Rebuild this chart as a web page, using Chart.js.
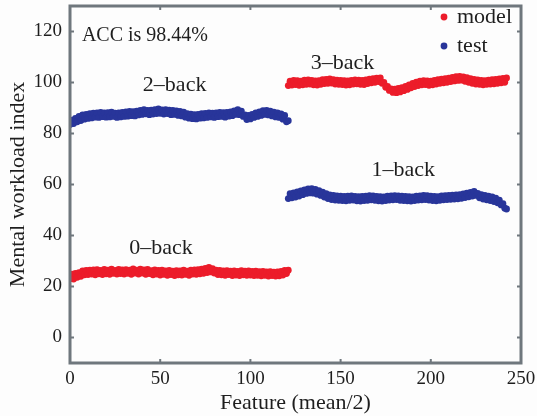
<!DOCTYPE html>
<html>
<head>
<meta charset="utf-8">
<script src="https://cdn.jsdelivr.net/npm/chart.js@4/dist/chart.umd.min.js"></script>
<style>
  html, body { margin: 0; padding: 0; background: #fdfdfd; }
  #wrap { width: 537px; height: 416px; }
</style>
</head>
<body>
<div id="wrap"><canvas id="c" width="537" height="416"></canvas></div>
<script>
// Workload index per feature sample; each block starts at the given feature number
const zeroBackStart = 0;
const zeroBack = [
  23.0,24.8,22.9,25.1,23.6,25.4,24.0,26.1,24.6,26.3,
  24.7,26.4,24.9,26.5,24.6,26.6,25.0,26.3,24.7,26.7,
  25.0,26.4,24.8,26.8,25.2,26.3,24.9,26.7,25.1,26.5,
  24.9,26.6,25.2,26.4,24.8,26.9,25.3,26.4,24.9,26.8,
  25.3,26.5,24.8,26.7,25.1,26.2,24.6,26.5,24.9,26.3,
  24.5,26.4,24.8,26.1,24.4,26.3,24.7,26.0,24.3,26.2,
  24.6,26.1,24.5,26.4,24.8,26.0,24.4,26.4,24.9,26.5,
  24.8,26.6,25.0,26.8,25.2,27.1,25.5,27.5,25.7,27.0,
  25.3,26.4,24.7,26.3,24.6,26.1,24.4,26.2,24.7,26.0,
  24.3,26.1,24.5,25.9,24.3,26.2,24.6,26.0,24.4,26.1,
  24.5,25.9,24.3,26.0,24.4,25.8,24.2,25.9,24.4,25.7,
  24.1,25.8,24.3,25.6,24.1,25.7,24.2,25.9,24.5,26.3,
  25.1,26.4
];

const twoBackStart = 0;
const twoBack = [
  83.5,85.2,83.9,85.9,84.6,86.7,85.1,87.3,85.6,87.5,
  85.9,87.8,86.1,88.0,86.4,88.1,86.3,88.3,86.6,88.1,
  86.4,88.2,86.5,88.4,86.7,88.0,86.3,88.1,86.5,88.3,
  86.7,88.5,86.8,88.7,87.0,88.6,86.9,88.8,87.3,89.1,
  87.5,89.4,87.7,89.1,87.4,89.2,87.6,89.4,87.8,89.6,
  87.9,89.3,87.6,89.4,87.8,89.2,87.4,89.1,87.5,88.9,
  87.1,88.7,86.9,88.4,86.4,87.8,86.0,87.6,85.8,87.4,
  85.7,87.5,86.0,87.8,86.1,87.9,86.3,88.1,86.5,88.0,
  86.3,88.1,86.6,88.3,86.7,88.2,86.4,88.3,86.8,88.5,
  87.0,88.9,87.5,89.4,87.4,88.8,86.7,87.3,85.5,87.1,
  85.7,87.5,86.3,88.1,86.7,88.5,87.1,89.0,87.5,89.1,
  87.3,88.8,86.9,88.4,86.5,88.1,86.3,87.7,85.6,87.1,
  84.6,85.0
];

const threeBackStart = 121;
const threeBack = [
  98.8,100.5,99.0,100.8,99.2,100.7,98.9,100.5,99.1,100.9,
  99.3,101.0,99.4,100.8,99.1,100.6,99.0,100.7,99.3,101.1,
  99.6,101.2,99.7,101.4,99.8,101.1,99.4,100.9,99.3,100.8,
  99.2,100.7,99.0,100.6,99.1,100.8,99.4,101.0,99.5,100.9,
  99.3,100.8,99.2,101.0,99.6,101.3,99.9,101.5,100.1,101.7,
  100.4,101.8,99.7,100.0,98.1,98.5,96.9,97.5,96.1,97.4,
  96.0,97.7,96.3,98.0,96.8,98.5,97.3,99.1,97.9,99.6,
  98.4,100.1,98.8,100.5,99.1,100.7,99.2,100.6,98.9,100.5,
  99.1,100.8,99.4,101.1,99.7,101.3,99.9,101.5,100.1,101.7,
  100.4,102.0,100.6,102.3,100.8,102.4,100.9,102.2,100.5,101.9,
  100.1,101.5,99.7,101.2,99.4,101.0,99.3,100.8,99.1,100.7,
  99.3,100.9,99.4,101.1,99.5,101.2,99.7,101.4,99.9,101.6,
  100.1,101.8
];

const oneBackStart = 121;
const oneBack = [
  54.5,56.4,54.8,56.7,55.1,57.1,55.5,57.5,56.0,57.9,
  56.5,58.3,56.7,58.4,56.6,58.1,56.2,57.6,55.7,57.0,
  55.1,56.4,54.5,55.9,54.1,55.7,53.9,55.5,53.8,55.4,
  53.7,55.3,53.6,55.4,53.8,55.5,53.9,55.3,53.6,55.2,
  53.5,55.3,53.7,55.4,53.8,55.6,54.0,55.5,53.8,55.3,
  53.6,55.2,53.5,55.1,53.7,55.4,53.9,55.5,54.0,55.6,
  54.1,55.5,53.8,55.4,53.7,55.3,53.6,55.2,53.5,55.1,
  53.7,55.4,53.9,55.5,54.0,55.7,54.1,55.6,53.9,55.4,
  53.7,55.3,53.6,55.2,53.8,55.5,54.0,55.6,54.1,55.7,
  54.2,55.8,54.3,55.9,54.4,56.0,54.6,56.3,54.9,56.6,
  55.2,56.9,55.5,57.3,55.7,56.5,54.8,56.0,54.3,55.7,
  54.0,55.4,53.7,55.1,53.3,54.6,52.8,53.9,52.0,52.5,
  50.7,50.4
];

const xTicks = [0, 50, 100, 150, 200, 250];
const yTicks = [0, 20, 40, 60, 80, 100, 120];
const seriesNames = ['model', 'test'];
const accText = 'ACC is 98.44%';
const taskLabels = [
  { text: '0\u2013back', x: 50.4, y: 35.0 },
  { text: '1\u2013back', x: 184.7, y: 65.5 },
  { text: '2\u2013back', x: 58.0, y: 98.8 },
  { text: '3\u2013back', x: 151.0, y: 107.5 }
];
const accPos = { x: 6.6, y: 118.5 };

const RED = '#ec1c2a';
const BLUE = '#28359a';
const AXIS = '#6f777d';
const INK = '#1e1e1e';
const SERIF = '"Liberation Serif", "Times New Roman", serif';

const toPoints = (start, vals) => vals.map((v, i) => ({ x: start + i, y: v }));

const dot = (color) => ({
  type: 'scatter',
  showLine: false,
  backgroundColor: color,
  borderColor: color,
  borderWidth: 0,
  pointRadius: 3.4,
  pointHoverRadius: 3.4
});

// Frame, inward ticks on all four sides, text labels and the legend
const decorations = {
  id: 'decorations',
  afterDatasetsDraw(chart) {
    const { ctx, chartArea: a, scales: { x, y } } = chart;
    ctx.save();
    ctx.strokeStyle = AXIS;
    ctx.lineWidth = 2;
    const tl = 4;
    xTicks.forEach(t => {
      const px = x.getPixelForValue(t);
      ctx.beginPath();
      ctx.moveTo(px, a.bottom); ctx.lineTo(px, a.bottom - tl);
      ctx.moveTo(px, a.top); ctx.lineTo(px, a.top + tl);
      ctx.stroke();
    });
    yTicks.forEach(t => {
      const py = y.getPixelForValue(t);
      ctx.beginPath();
      ctx.moveTo(a.left, py); ctx.lineTo(a.left + tl, py);
      ctx.moveTo(a.right, py); ctx.lineTo(a.right - tl, py);
      ctx.stroke();
    });
    ctx.lineWidth = 3;
    ctx.strokeRect(a.left, a.top, a.right - a.left, a.bottom - a.top);

    ctx.fillStyle = INK;
    ctx.textBaseline = 'middle';
    ctx.font = '20px ' + SERIF;
    ctx.textAlign = 'left';
    ctx.fillText(accText, x.getPixelForValue(accPos.x), y.getPixelForValue(accPos.y));
    ctx.font = '22px ' + SERIF;
    ctx.textAlign = 'center';
    taskLabels.forEach(l => {
      ctx.fillText(l.text, x.getPixelForValue(l.x), y.getPixelForValue(l.y));
    });

    // legend
    const colors = [RED, BLUE];
    ctx.textAlign = 'left';
    seriesNames.forEach((name, i) => {
      const my = a.top + 11 + i * 29;
      ctx.fillStyle = colors[i];
      ctx.beginPath();
      ctx.arc(a.right - 77, my, 3.4, 0, Math.PI * 2);
      ctx.fill();
      ctx.fillStyle = INK;
      ctx.fillText(name, a.right - 64, my);
    });
    ctx.restore();
  }
};

new Chart(document.getElementById('c'), {
  type: 'scatter',
  data: {
    datasets: [
      { label: seriesNames[0], data: toPoints(zeroBackStart, zeroBack), ...dot(RED) },
      { label: seriesNames[0], data: toPoints(threeBackStart, threeBack), ...dot(RED) },
      { label: seriesNames[1], data: toPoints(twoBackStart, twoBack), ...dot(BLUE) },
      { label: seriesNames[1], data: toPoints(oneBackStart, oneBack), ...dot(BLUE) }
    ]
  },
  options: {
    responsive: false,
    animation: false,
    devicePixelRatio: 1,
    layout: { padding: { top: 6, right: 16, left: 0, bottom: 0 } },
    plugins: { legend: { display: false }, tooltip: { enabled: false } },
    scales: {
      x: {
        type: 'linear',
        min: 0, max: 250,
        afterBuildTicks: s => { s.ticks = xTicks.map(v => ({ value: v })); },
        afterFit: s => { s.height = 53; s.paddingLeft = 0; s.paddingRight = 0; },
        grid: { display: false, drawTicks: false },
        border: { display: false },
        ticks: { color: INK, font: { family: SERIF, size: 19 }, padding: 5, maxRotation: 0 },
        title: { display: true, text: 'Feature (mean/2)', color: INK, font: { family: SERIF, size: 22 }, padding: { top: 0, bottom: 0 } }
      },
      y: {
        type: 'linear',
        min: -10, max: 130,
        afterBuildTicks: s => { s.ticks = yTicks.map(v => ({ value: v })); },
        afterFit: s => { s.width = 70; s.paddingTop = 0; s.paddingBottom = 0; },
        grid: { display: false, drawTicks: false },
        border: { display: false },
        ticks: { color: INK, font: { family: SERIF, size: 19 }, padding: 8 },
        title: { display: true, text: 'Mental workload index', color: INK, font: { family: SERIF, size: 22 }, padding: { top: 5, bottom: 0 } }
      }
    }
  },
  plugins: [decorations]
});
</script>
</body>
</html>
